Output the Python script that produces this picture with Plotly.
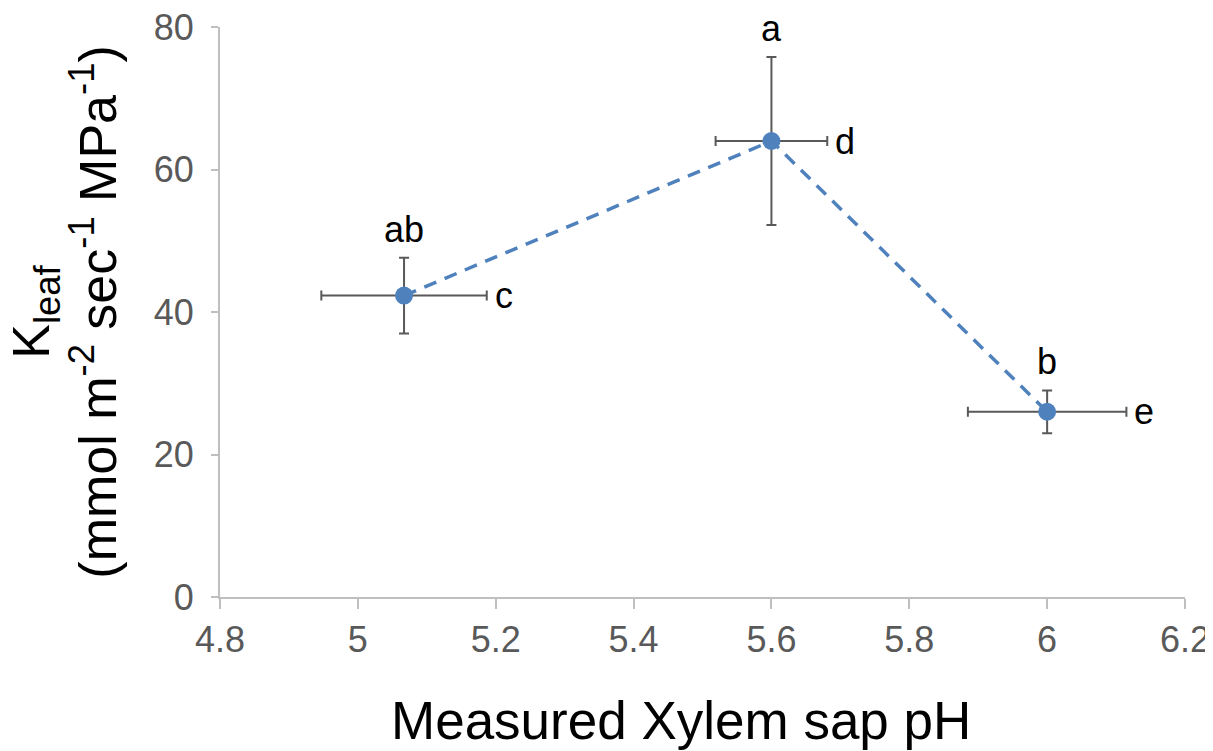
import plotly.graph_objects as go

# Data
ph = [5.067, 5.6, 6.0]
kleaf = [42.3, 64.0, 26.0]
kleaf_err = [5.3, 11.8, 3.0]
ph_err = [0.12, 0.081, 0.115]
letters_top = ["ab", "a", "b"]
letters_right = ["c", "d", "e"]

x_ticks = [4.8, 5.0, 5.2, 5.4, 5.6, 5.8, 6.0, 6.2]
x_ticklabels = ["4.8", "5", "5.2", "5.4", "5.6", "5.8", "6", "6.2"]
y_ticks = [0, 20, 40, 60, 80]

FONT = "Liberation Sans, Arial, sans-serif"
BLUE = "#4F81BD"
ERR = "#595959"
AXIS = "#BFBFBF"

fig = go.Figure()
fig.add_trace(go.Scatter(
    x=ph, y=kleaf, mode="markers",
    marker=dict(size=1, color="rgba(0,0,0,0)"),
    error_y=dict(type="data", array=kleaf_err, color=ERR, thickness=2, width=5),
    error_x=dict(type="data", array=ph_err, color=ERR, thickness=2, width=5),
    showlegend=False, hoverinfo="skip",
))
fig.add_trace(go.Scatter(
    x=ph, y=kleaf, mode="lines+markers",
    line=dict(color=BLUE, width=3.5, dash="13px,9px"),
    marker=dict(size=18, color=BLUE),
    showlegend=False,
))

annotations = []
for xi, yi, ye, xe, lt, lr in zip(ph, kleaf, kleaf_err, ph_err, letters_top, letters_right):
    annotations.append(dict(x=xi, y=yi + ye, text=lt, showarrow=False,
                            xanchor="center", yanchor="bottom", yshift=6,
                            font=dict(family=FONT, size=36, color="black")))
    annotations.append(dict(x=xi + xe, y=yi, text=lr, showarrow=False,
                            xanchor="left", yanchor="middle", xshift=6,
                            font=dict(family=FONT, size=36, color="black")))

annotations.append(dict(
    xref="paper", yref="paper", x=-0.161, y=0.5,
    text="K<sub>leaf</sub><br>(mmol m<sup>-2</sup> sec<sup>-1</sup> MPa<sup>-1</sup>)",
    textangle=-90, showarrow=False, xanchor="center", yanchor="middle",
    borderpad=0,
    font=dict(family=FONT, size=52, color="black")))
annotations.append(dict(
    xref="paper", yref="paper", x=0.478, y=-0.216,
    text="Measured Xylem sap pH", showarrow=False,
    xanchor="center", yanchor="middle",
    font=dict(family=FONT, size=53, color="black")))

# page body has an 8px default margin, so margins compensate for it
fig.update_layout(
    width=1213, height=751,
    margin=dict(l=212, r=36, t=19, b=162, autoexpand=False),
    paper_bgcolor="white", plot_bgcolor="white",
    annotations=annotations,
    font=dict(family=FONT),
)
fig.update_xaxes(
    range=[4.8, 6.2], tickvals=x_ticks, ticktext=x_ticklabels, automargin=False,
    showgrid=False, zeroline=False, showline=True, linecolor=AXIS, linewidth=2,
    ticks="outside", ticklen=10, tickwidth=2, tickcolor=AXIS,
    ticklabeloverflow="allow",
    tickfont=dict(family=FONT, size=36, color="#595959"),
)
fig.update_yaxes(
    range=[0, 80], tickvals=y_ticks, automargin=False,
    showgrid=False, zeroline=False, showline=True, linecolor=AXIS, linewidth=2,
    ticks="outside", ticklen=7, tickwidth=2, tickcolor=AXIS, ticklabelstandoff=10,
    ticklabeloverflow="allow",
    tickfont=dict(family=FONT, size=36, color="#595959"),
)

fig.write_html("out.html")
